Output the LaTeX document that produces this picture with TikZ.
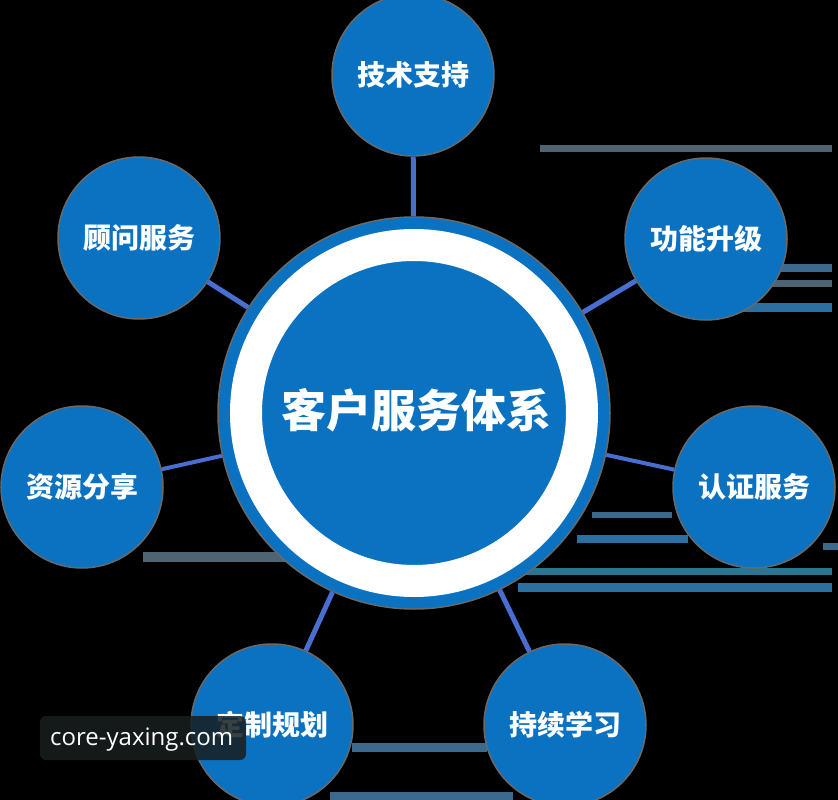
\documentclass[tikz,border=0pt]{standalone}
\usepackage{fontspec}
\newfontfamily\cjk{Noto Sans CJK SC}
\newfontfamily\wmfont{Open Sans}
\definecolor{cblue}{RGB}{10,114,192}
\definecolor{conn}{RGB}{72,110,210}
\definecolor{halo}{RGB}{105,105,105}
\definecolor{barA}{RGB}{78,100,114}
\definecolor{barB}{RGB}{60,106,142}
\definecolor{barC}{RGB}{42,112,160}
\definecolor{barD}{RGB}{40,118,145}
\definecolor{wmbox}{RGB}{24,30,30}
\begin{document}
\begin{tikzpicture}[x=1pt,y=-1pt,
  bubble/.style={circle,fill=cblue,draw=halo,line width=1.5pt,minimum size=162pt,inner sep=0pt,
    text=white,font=\cjk\bfseries\fontsize{28}{28}\selectfont},
  hub/.style={circle,fill=cblue,draw=halo,line width=1.5pt,minimum size=392pt,inner sep=0pt},
  link/.style={conn,line width=5pt}]
\fill[black] (0,0) rectangle (838,800);
\useasboundingbox (0,0) rectangle (838,800);
% background streaks
\fill[barA] (540,145) rectangle (832,152);
\fill[barB] (760,264) rectangle (832,272);
\fill[barA] (760,280) rectangle (832,287);
\fill[barC] (740,303) rectangle (832,312);
\fill[barB] (592,512) rectangle (672,518);
\fill[barC] (577,535) rectangle (688,543);
\fill[barB] (823,543) rectangle (838,550);
\fill[barD] (518,568) rectangle (832,575);
\fill[barC] (518,583) rectangle (832,592);
\fill[barA] (143,552) rectangle (300,562);
\fill[barB] (352,743) rectangle (487,752);
\fill[barB] (330,792) rectangle (513,800);
% hub
\node[hub] (c) at (414,413) {};
\draw[white,line width=32pt] (c.center) circle (168);
\node[text=white,font=\cjk\bfseries\fontsize{45}{45}\selectfont] (ct) at (416,410) {客户服务体系};
% satellites
\node[bubble] (t1) at (413,75) {技术支持};
\node[bubble] (t2) at (706,239) {功能升级};
\node[bubble] (t3) at (754,487) {认证服务};
\node[bubble] (t4) at (565,725) {持续学习};
\node[bubble] (t5) at (272,725) {定制规划};
\node[bubble] (t6) at (82,487) {资源分享};
\node[bubble] (t7) at (139,238) {顾问服务};
% connectors
\draw[link] (c) -- (t1);
\draw[link] (c) -- (t2);
\draw[link,line width=4pt] (c) -- (t3);
\draw[link] (c) -- (t4);
\draw[link] (c) -- (t5);
\draw[link,line width=4pt] (c) -- (t6);
\draw[link] (c) -- (t7);
% watermark
\node[fill=wmbox,fill opacity=0.85,rounded corners=6pt,minimum width=206pt,minimum height=44pt,
  inner sep=0pt] (wm) at (143,738) {};
\node[text=white,font=\wmfont\fontsize{24}{24}\selectfont,anchor=west,inner sep=0pt] (wmt) at (50,740) {core-yaxing.com};
\end{tikzpicture}
\end{document}
